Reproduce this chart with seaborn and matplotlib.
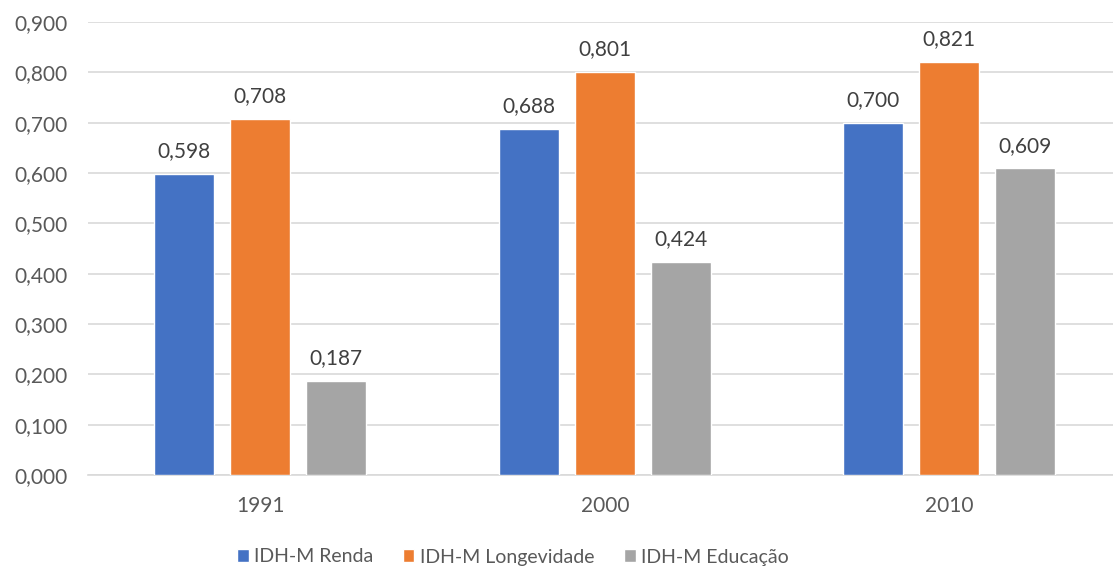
import matplotlib
matplotlib.use("Agg")
import matplotlib.pyplot as plt
import seaborn as sns
import pandas as pd
from matplotlib.ticker import FuncFormatter, MultipleLocator
from matplotlib.patches import Patch

years = ["1991", "2000", "2010"]
series = ["IDH-M Renda", "IDH-M Longevidade", "IDH-M Educação"]
renda = [0.598, 0.688, 0.700]
longevidade = [0.708, 0.801, 0.821]
educacao = [0.187, 0.424, 0.609]
colors = ["#4472C4", "#ED7D31", "#A5A5A5"]

rows = []
for name, vals in zip(series, [renda, longevidade, educacao]):
    for y, v in zip(years, vals):
        rows.append({"Ano": y, "Serie": name, "Valor": v})
df = pd.DataFrame(rows)

sns.set_theme(style="white")
plt.rcParams['font.family'] = ['Lato', 'DejaVu Sans']

fig = plt.figure(figsize=(11.13, 5.69), dpi=100)
ax = fig.add_axes([88 / 1113, 1 - 475 / 569, 1033.5 / 1113, 453 / 569])

sns.barplot(data=df, x="Ano", y="Valor", hue="Serie", palette=colors,
            saturation=1, width=0.662, gap=0.21, ax=ax, legend=False, zorder=3)

for c in ax.containers:
    labels = [f"{v:.3f}".replace(".", ",") for v in c.datavalues]
    ax.bar_label(c, labels=labels, padding=9, fontsize=15, color="#404040")

ax.set_ylim(0, 0.9)
ax.set_xlim(-0.5, 2.5)
ax.yaxis.set_major_locator(MultipleLocator(0.1))
ax.yaxis.set_major_formatter(FuncFormatter(lambda v, p: f"{v:.3f}".replace(".", ",")))
ax.grid(axis="y", color="#D9D9D9", linewidth=1.2, zorder=0)
ax.set_axisbelow(True)
for s in ["top", "right", "left"]:
    ax.spines[s].set_visible(False)
ax.spines["bottom"].set_color("#D9D9D9")
ax.spines["bottom"].set_linewidth(1.2)
ax.tick_params(axis="both", length=0, labelsize=15, colors="#595959", pad=15)
ax.set_xlabel("")
ax.set_ylabel("")

handles = [Patch(facecolor=c, label=n) for c, n in zip(colors, series)]
fig.legend(handles=handles, loc="center", ncol=3, frameon=False,
           fontsize=14, bbox_to_anchor=(513 / 1113, 1 - 557 / 569), handlelength=0.6,
           handleheight=0.6, handletextpad=0.3, columnspacing=1.5,
           labelcolor="#595959", borderpad=0)

fig.savefig("out.png", dpi=100)
